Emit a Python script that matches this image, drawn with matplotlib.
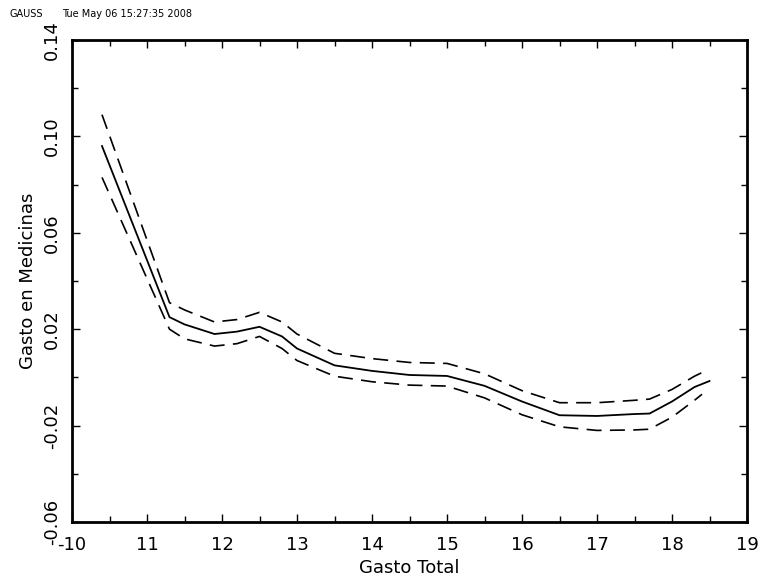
import matplotlib
matplotlib.use('Agg')
from matplotlib import pyplot as plt
from matplotlib.ticker import MultipleLocator

gasto_total = [10.4, 11.3, 11.5, 11.9, 12.2, 12.5, 12.8, 13.0, 13.5, 14.0, 14.5, 15.0,
               15.5, 16.0, 16.5, 17.0, 17.5, 17.7, 18.0, 18.3, 18.5]
gasto_medicinas = [0.096, 0.025, 0.022, 0.018, 0.019, 0.021, 0.017, 0.012, 0.005, 0.0027, 0.001, 0.0006,
                   -0.0035, -0.010, -0.0157, -0.016, -0.0152, -0.015, -0.010, -0.004, -0.0015]
band_x = gasto_total[:-1] + [18.4]
upper = [0.109, 0.031, 0.028, 0.023, 0.024, 0.027, 0.023, 0.018, 0.010, 0.0078, 0.0062, 0.0058,
         0.0015, -0.0055, -0.0105, -0.0105, -0.0095, -0.009, -0.005, 0.0005, 0.002]
lower = [0.083, 0.020, 0.016, 0.013, 0.014, 0.017, 0.012, 0.007, 0.0005, -0.0018, -0.0032, -0.0036,
         -0.0085, -0.0155, -0.0205, -0.022, -0.0218, -0.0215, -0.0165, -0.0095, -0.007]

fig = plt.figure(figsize=(7.6, 5.8), dpi=100)
ax = fig.add_axes([72 / 760, 58 / 580, 675 / 760, 482 / 580])
ax.plot(gasto_total, gasto_medicinas, color='black', lw=1.3)
ax.plot(band_x, upper, color='black', lw=1.2, dashes=(9, 5))
ax.plot(band_x, lower, color='black', lw=1.2, dashes=(9, 5))

ax.set_xlim(10, 19)
ax.set_ylim(-0.06, 0.14)
ax.set_xticks(range(10, 20))
ax.set_xticklabels(['-10'] + [str(v) for v in range(11, 20)])
ax.set_yticks([-0.06, -0.02, 0.02, 0.06, 0.10, 0.14])
ax.set_yticklabels(['-0.06', '-0.02', '0.02', '0.06', '0.10', '0.14'], rotation=90, va='center')
ax.xaxis.set_minor_locator(MultipleLocator(0.5))
ax.yaxis.set_minor_locator(MultipleLocator(0.02))
ax.tick_params(which='both', direction='in', top=True, right=True, labelsize=13, width=1)
ax.tick_params(which='major', length=6)
ax.tick_params(which='minor', length=4)
ax.tick_params(axis='x', pad=10)
ax.tick_params(axis='y', pad=8)
for s in ax.spines.values():
    s.set_linewidth(2)
ax.set_xlabel('Gasto Total', fontsize=13, labelpad=4)
ax.set_ylabel('Gasto en Medicinas', fontsize=13)
fig.text(10 / 760, 1 - 14 / 580, 'GAUSS', fontsize=7, va='center')
fig.text(62 / 760, 1 - 14 / 580, 'Tue May 06 15:27:35 2008', fontsize=7, va='center')

fig.savefig('out.png', dpi=100)
